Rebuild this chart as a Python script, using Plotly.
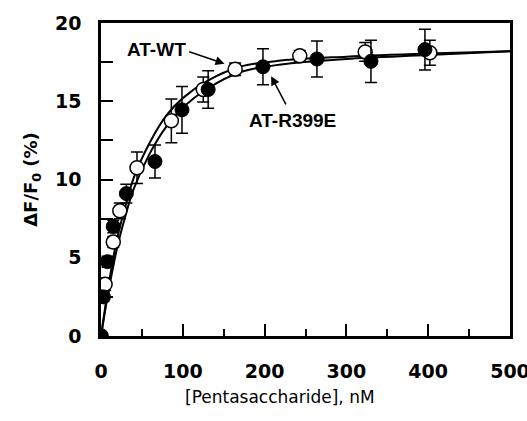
import plotly.graph_objects as go

# AT-WT (open circles)
wt_x = [0, 5, 15, 23, 44, 86, 125, 164, 243, 323, 402]
wt_y = [0, 3.3, 6.0, 8.0, 10.75, 13.75, 15.75, 17.05, 17.9, 18.15, 18.1]
wt_err = [0, 0.4, 0.35, 0.5, 1.0, 1.4, 0.8, 0.4, 0.35, 0.6, 0.8]

# AT-R399E (filled circles)
mut_x = [0, 3, 8, 15, 31, 66, 99, 131, 198, 264, 330, 396]
mut_y = [0, 2.5, 4.75, 7.0, 9.1, 11.15, 14.45, 15.75, 17.2, 17.7, 17.55, 18.3]
mut_err = [0, 0.3, 0.35, 0.4, 0.6, 1.05, 1.5, 1.2, 1.15, 1.15, 1.35, 1.3]

# fitted curves
fit_x = [0, 5, 10, 20, 30, 40, 60, 80, 100, 130, 170, 220, 300, 400, 500]
fit_wt = [0, 1.8, 3.5, 6.3, 8.3, 10.1, 12.4, 14.1, 15.2, 16.3, 17.2, 17.6, 17.85, 18.05, 18.2]
fit_mut = [0, 1.6, 3.1, 5.7, 7.7, 9.4, 11.7, 13.4, 14.6, 15.8, 16.85, 17.35, 17.7, 17.95, 18.2]

x_ticks = [0, 100, 200, 300, 400, 500]
y_ticks = [0, 5, 10, 15, 20]

FONT = "Liberation Sans"
TICKFONT = "DejaVu Sans"

fig = go.Figure()
fig.add_trace(go.Scatter(x=fit_x, y=fit_wt, mode="lines", line=dict(color="black", width=2, shape="spline"), hoverinfo="skip"))
fig.add_trace(go.Scatter(x=fit_x, y=fit_mut, mode="lines", line=dict(color="black", width=2, shape="spline"), hoverinfo="skip"))
fig.add_trace(go.Scatter(
    x=wt_x, y=wt_y, mode="markers", name="AT-WT",
    marker=dict(size=14, color="white", line=dict(color="black", width=1.5)),
    error_y=dict(type="data", array=wt_err, color="black", thickness=1.5, width=6),
))
fig.add_trace(go.Scatter(
    x=mut_x, y=mut_y, mode="markers", name="AT-R399E",
    marker=dict(size=14, color="black", line=dict(color="black", width=1)),
    error_y=dict(type="data", array=mut_err, color="black", thickness=1.5, width=6),
))

axis_common = dict(
    showline=True, linecolor="black", linewidth=2.5, mirror=True,
    ticks="inside", tickcolor="black", tickwidth=2, ticklen=12,
    showgrid=False, zeroline=False, automargin=False,
    ticklabeloverflow="allow",
    tickfont=dict(family=TICKFONT, size=19, color="black", weight="bold"),
)

fig.update_layout(
    width=527, height=421,
    margin=dict(l=101, r=17, t=23, b=85),
    paper_bgcolor="white", plot_bgcolor="white",
    showlegend=False,
    xaxis=dict(
        range=[0, 500], tickvals=x_ticks,
        minor=dict(dtick=50, ticks="inside", ticklen=7, tickwidth=2, tickcolor="black"),
        ticklabelstandoff=16,
        **axis_common,
    ),
    yaxis=dict(
        range=[0, 20], tickvals=y_ticks,
        minor=dict(dtick=2.5, ticks="inside", ticklen=12, tickwidth=2, tickcolor="black"),
        title=dict(text="ΔF/F<sub>0</sub> (%)", font=dict(family=TICKFONT, size=18, color="black", weight="bold"), standoff=13),
        ticklabelstandoff=13,
        **axis_common,
    ),
    annotations=[
        dict(x=151, y=17.4, ax=106, ay=18.2, axref="x", ayref="y", xref="x", yref="y",
             text="", showarrow=True, arrowhead=2, arrowsize=1.2, arrowwidth=1.5, arrowcolor="black"),
        dict(x=29, y=18.3, xref="x", yref="y", text="<b>AT-WT</b>", showarrow=False,
             font=dict(family=FONT, size=19, color="black"), xanchor="left"),
        dict(x=208, y=16.6, ax=227, ay=14.7, axref="x", ayref="y", xref="x", yref="y", text="",
             showarrow=True, arrowhead=2, arrowsize=1.2, arrowwidth=1.5, arrowcolor="black"),
        dict(x=233.5, y=13.8, xref="x", yref="y", text="<b>AT-R399E</b>", showarrow=False,
             font=dict(family=FONT, size=19, color="black")),
        dict(x=0.4377, y=-0.195, xref="paper", yref="paper", text="[Pentasaccharide], nM",
             showarrow=False, xanchor="center", yanchor="middle",
             font=dict(family=TICKFONT, size=17, color="black")),
    ],
)

fig.write_html("out.html", config={"displayModeBar": False},
               post_script="document.body.style.margin='0';")
